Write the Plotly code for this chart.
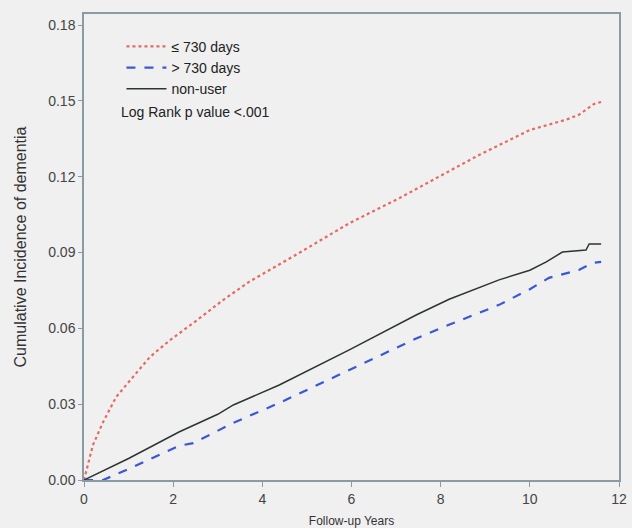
import plotly.graph_objects as go

# Follow-up years and cumulative incidence
red_t = [0, 0.1, 0.2, 0.43, 0.72, 1.1, 1.48, 1.93, 2.45, 3.12, 3.7, 4.84, 5.96, 7.08, 7.83, 8.86, 10, 10.43, 10.8, 11.1, 11.44, 11.6]
red_y = [0, 0.0075, 0.0138, 0.023, 0.0328, 0.0408, 0.0487, 0.0554, 0.0621, 0.0712, 0.0784, 0.090, 0.1017, 0.1116, 0.1187, 0.1286, 0.1385, 0.1405, 0.1425, 0.1445, 0.1488, 0.1496]

blue_t = [0, 0.43, 0.95, 2.13, 2.45, 3.35, 4.38, 5.95, 7.45, 8.2, 9.31, 10, 10.43, 11.1, 11.4, 11.6]
blue_y = [0, 0, 0.004, 0.0135, 0.0146, 0.0226, 0.0305, 0.0435, 0.056, 0.0615, 0.0693, 0.0755, 0.080, 0.0831, 0.0859, 0.0863]

black_t = [0, 1, 2.13, 3, 3.35, 4.38, 5.95, 7.45, 8.19, 9.31, 10, 10.37, 10.73, 11.26, 11.33, 11.6]
black_y = [0, 0.0085, 0.019, 0.026, 0.0297, 0.0376, 0.0515, 0.0653, 0.0715, 0.0792, 0.083, 0.0863, 0.0902, 0.091, 0.0934, 0.0934]

series_names = ["≤ 730 days", "> 730 days", "non-user"]
x_ticks = [0, 2, 4, 6, 8, 10, 12]
y_ticks = [0.00, 0.03, 0.06, 0.09, 0.12, 0.15, 0.18]
y_tick_labels = ["0.00", "0.03", "0.06", "0.09", "0.12", "0.15", "0.18"]

BG = "#f0f0f0"
AXC = "#8b9ba3"
FONT = "Liberation Sans, Arial, sans-serif"

fig = go.Figure()
fig.add_trace(go.Scatter(x=red_t, y=red_y, mode="lines", name=series_names[0],
                         line=dict(color="#e46a64", width=2.2, dash="dot")))
fig.add_trace(go.Scatter(x=blue_t, y=blue_y, mode="lines", name=series_names[1],
                         line=dict(color="#3a58d6", width=2.2, dash="dash")))
fig.add_trace(go.Scatter(x=black_t, y=black_y, mode="lines", name=series_names[2],
                         line=dict(color="#2c3533", width=1.5)))

fig.add_annotation(x=0.065, y=0.79, xref="paper", yref="paper", xanchor="left", yanchor="middle",
                   text="Log Rank p value <.001", showarrow=False,
                   font=dict(family=FONT, size=14, color="#222"))

fig.update_layout(
    width=632, height=528,
    margin=dict(l=84, r=13, t=14, b=48),
    paper_bgcolor=BG, plot_bgcolor=BG,
    font=dict(family=FONT, size=13, color="#333"),
    showlegend=True,
    legend=dict(x=0.07, y=0.964, xanchor="left", yanchor="top", bgcolor="rgba(0,0,0,0)",
                font=dict(family=FONT, size=14, color="#222"), tracegroupgap=0, itemwidth=40),
    xaxis=dict(range=[0, 12], tickvals=x_ticks, showgrid=False, zeroline=False, automargin=False,
               showline=True, linecolor=AXC, linewidth=1.5, mirror=True,
               ticks="outside", ticklen=5, tickcolor=AXC,
               title=dict(text="Follow-up Years", font=dict(size=12, color="#333"), standoff=14),
               tickfont=dict(size=14, color="#444")),
    yaxis=dict(range=[0, 0.1844], tickvals=y_ticks, ticktext=y_tick_labels, showgrid=False, zeroline=False,
               automargin=False,
               showline=True, linecolor=AXC, linewidth=1.5, mirror=True,
               ticks="outside", ticklen=4, tickcolor=AXC,
               title=dict(text="Cumulative Incidence of dementia", font=dict(size=16, color="#333"), standoff=18),
               tickfont=dict(size=14, color="#444")),
)

fig.write_html("out.html", config={"displayModeBar": False},
               post_script="document.body.style.margin='0';document.body.style.background='#f0f0f0';")
